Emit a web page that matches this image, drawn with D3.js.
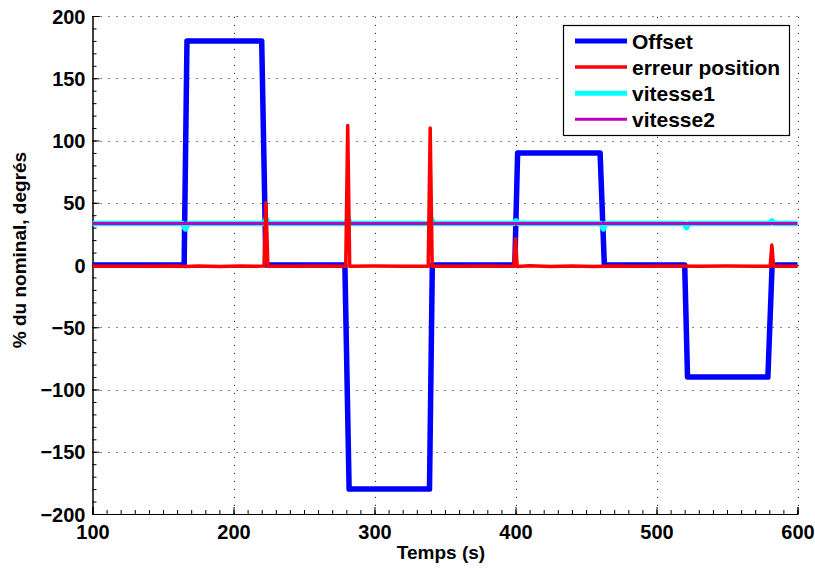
<!DOCTYPE html>
<html>
<head>
<meta charset="utf-8">
<script src="https://cdn.jsdelivr.net/npm/d3@7"></script>
<style>
  html, body { margin: 0; padding: 0; background: #fff; }
  svg { display: block; font-family: "Liberation Sans", Arial, Helvetica, sans-serif; font-weight: bold; }
</style>
</head>
<body>
<svg id="chart" width="815" height="569"></svg>
<script>
// ---- data ----
const seriesNames = ["Offset", "erreur position", "vitesse1", "vitesse2"];
const xTicks = [100, 200, 300, 400, 500, 600];
const yTicks = [-200, -150, -100, -50, 0, 50, 100, 150, 200];

const offsetTime = [100, 165, 167, 220, 223, 279, 282, 339, 341, 399.5, 401.5, 460, 463, 520, 522, 579, 582, 600];
const offsetVal  = [0, 0, 180, 180, 0, 0, -180, -180, 0, 0, 90, 90, 0, 0, -90, -90, 0, 0];

const errTime = [100, 130, 160, 166, 175, 190, 205, 215, 221.6, 223, 224.4, 240, 260, 279.6, 281, 282.4, 300, 320, 338.1, 339.5, 340.9, 360, 380, 398.8, 400, 401.2, 410, 425, 440, 455, 470, 490, 510, 530, 550, 570, 580.6, 581.8, 583, 600];
const errVal  = [-1, -1.1, -0.9, -1.3, -0.8, -1.2, -0.8, -1.1, -0.9, 50, -1, -1.1, -0.9, -1, 112, -1, -0.9, -1.1, -1, 110, -1, -1.1, -0.9, -1, 21, -1.2, -0.7, -1.3, -0.8, -1.2, -0.8, -1.1, -0.9, -1.1, -0.9, -1.1, -1, 16, -1, -1];

const v1Time = [100, 164, 165.8, 168, 221.5, 223.2, 225, 279.5, 281.2, 283, 338.5, 340.3, 342, 398.5, 400.3, 402, 460.5, 462.3, 464, 519.5, 521.3, 523, 580, 581.8, 583.5, 600];
const v1Val  = [33.3, 33.3, 29, 33.3, 33.3, 37, 33.3, 33.3, 37, 33.3, 33.3, 37, 33.3, 33.3, 35.5, 33.3, 33.3, 29, 33.3, 33.3, 30, 33.3, 33.3, 35.5, 33.3, 33.3];

const v2Time = [100, 600];
const v2Val  = [33.3, 33.3];

// ---- layout ----
const svg = d3.select("#chart");
const L = 92.5, R = 797.5, T = 16, B = 514;
const x = d3.scaleLinear().domain([100, 600]).range([L, R]);
const y = d3.scaleLinear().domain([-200, 200]).range([B, T]);

// grid
const grid = svg.append("g").attr("stroke", "#333").attr("stroke-width", 1).attr("stroke-dasharray", "1.2,6.8");
grid.selectAll("line.gx").data(xTicks.slice(1)).join("line")
  .attr("x1", d => Math.round(x(d)) + 0.5).attr("x2", d => Math.round(x(d)) + 0.5)
  .attr("y1", B).attr("y2", T);
grid.selectAll("line.gy").data(yTicks.slice(1)).join("line")
  .attr("y1", d => Math.round(y(d)) + 0.5).attr("y2", d => Math.round(y(d)) + 0.5)
  .attr("x1", L).attr("x2", R);

// axes
const fmtY = d => d < 0 ? "\u2212" + Math.abs(d) : String(d);
const xAxis = d3.axisBottom(x).tickValues(xTicks).tickSize(-7).tickPadding(15).tickFormat(d3.format("d"));
const yAxis = d3.axisLeft(y).tickValues(yTicks).tickSize(-7).tickPadding(14).tickFormat(fmtY);
const xMinor = d3.axisBottom(x).tickValues(d3.range(100, 601, 10)).tickSize(-4).tickFormat("");
const yMinor = d3.axisLeft(y).tickValues(d3.range(-200, 201, 10)).tickSize(-4).tickFormat("");

function styleAxis(g) {
  g.select(".domain").attr("stroke", "#000").attr("stroke-width", 1);
  g.selectAll(".tick line").attr("stroke", "#000");
  g.selectAll(".tick text").attr("fill", "#000").attr("font-size", "20px").attr("font-weight", "bold")
    .attr("font-family", "Liberation Sans, Arial, sans-serif");
}
svg.append("g").attr("transform", `translate(0,${B})`).call(xMinor).call(styleAxis);
svg.append("g").attr("transform", `translate(${L},0)`).call(yMinor).call(styleAxis);
svg.append("g").attr("transform", `translate(0,${B})`).call(xAxis).call(styleAxis)
  .selectAll(".tick text").attr("dy", "0.5em");
svg.append("g").attr("transform", `translate(${L},0)`).call(yAxis).call(styleAxis)
  .selectAll(".tick text").attr("dy", "0.36em").attr("dx", "7");

// clip
svg.append("clipPath").attr("id", "clip").append("rect").attr("x", L).attr("y", T - 5).attr("width", R - L + 5).attr("height", B - T + 10);

const line = d3.line().x(d => x(d[0])).y(d => y(d[1]));
const zip = (a, b) => a.map((t, i) => [t, b[i]]);

const plots = svg.append("g").attr("clip-path", "url(#clip)");
plots.append("path").datum(zip(offsetTime, offsetVal)).attr("d", line)
  .attr("fill", "none").attr("stroke", "#0000ff").attr("stroke-width", 5.5).attr("stroke-linejoin", "round");
plots.append("path").datum(zip(v1Time, v1Val)).attr("d", line)
  .attr("fill", "none").attr("stroke", "#00ffff").attr("stroke-width", 5.5).attr("stroke-linejoin", "round");
plots.append("path").datum(zip(v2Time, v2Val)).attr("d", line)
  .attr("fill", "none").attr("stroke", "#bf00bf").attr("stroke-width", 3).attr("stroke-linejoin", "round");
plots.append("path").datum(zip(errTime, errVal)).attr("d", line)
  .attr("fill", "none").attr("stroke", "#ff0000").attr("stroke-width", 3.5).attr("stroke-linejoin", "round");

// labels
svg.append("text").attr("x", (L + R) / 2 - 4).attr("y", 559).attr("text-anchor", "middle")
  .attr("font-size", "19px").attr("font-weight", "bold").text("Temps (s)");
svg.append("text").attr("transform", "translate(26,250) rotate(-90)").attr("text-anchor", "middle")
  .attr("font-size", "19px").attr("font-weight", "bold").text("% du nominal, degrés");

// legend
const colors = ["#0000ff", "#ff0000", "#00ffff", "#bf00bf"];
const widths = [5, 3.5, 5, 3];
const lg = svg.append("g");
lg.append("rect").attr("x", 563.5).attr("y", 25.5).attr("width", 226).attr("height", 110)
  .attr("fill", "#fff").attr("stroke", "#000").attr("stroke-width", 1.2);
seriesNames.forEach((n, i) => {
  const cy = 41 + i * 26.1;
  lg.append("line").attr("x1", 575).attr("x2", 627).attr("y1", cy).attr("y2", cy)
    .attr("stroke", colors[i]).attr("stroke-width", widths[i]);
  lg.append("text").attr("x", 632).attr("y", cy).attr("dy", "0.37em")
    .attr("font-size", "21px").attr("font-weight", "bold").text(n);
});
</script>
</body>
</html>
